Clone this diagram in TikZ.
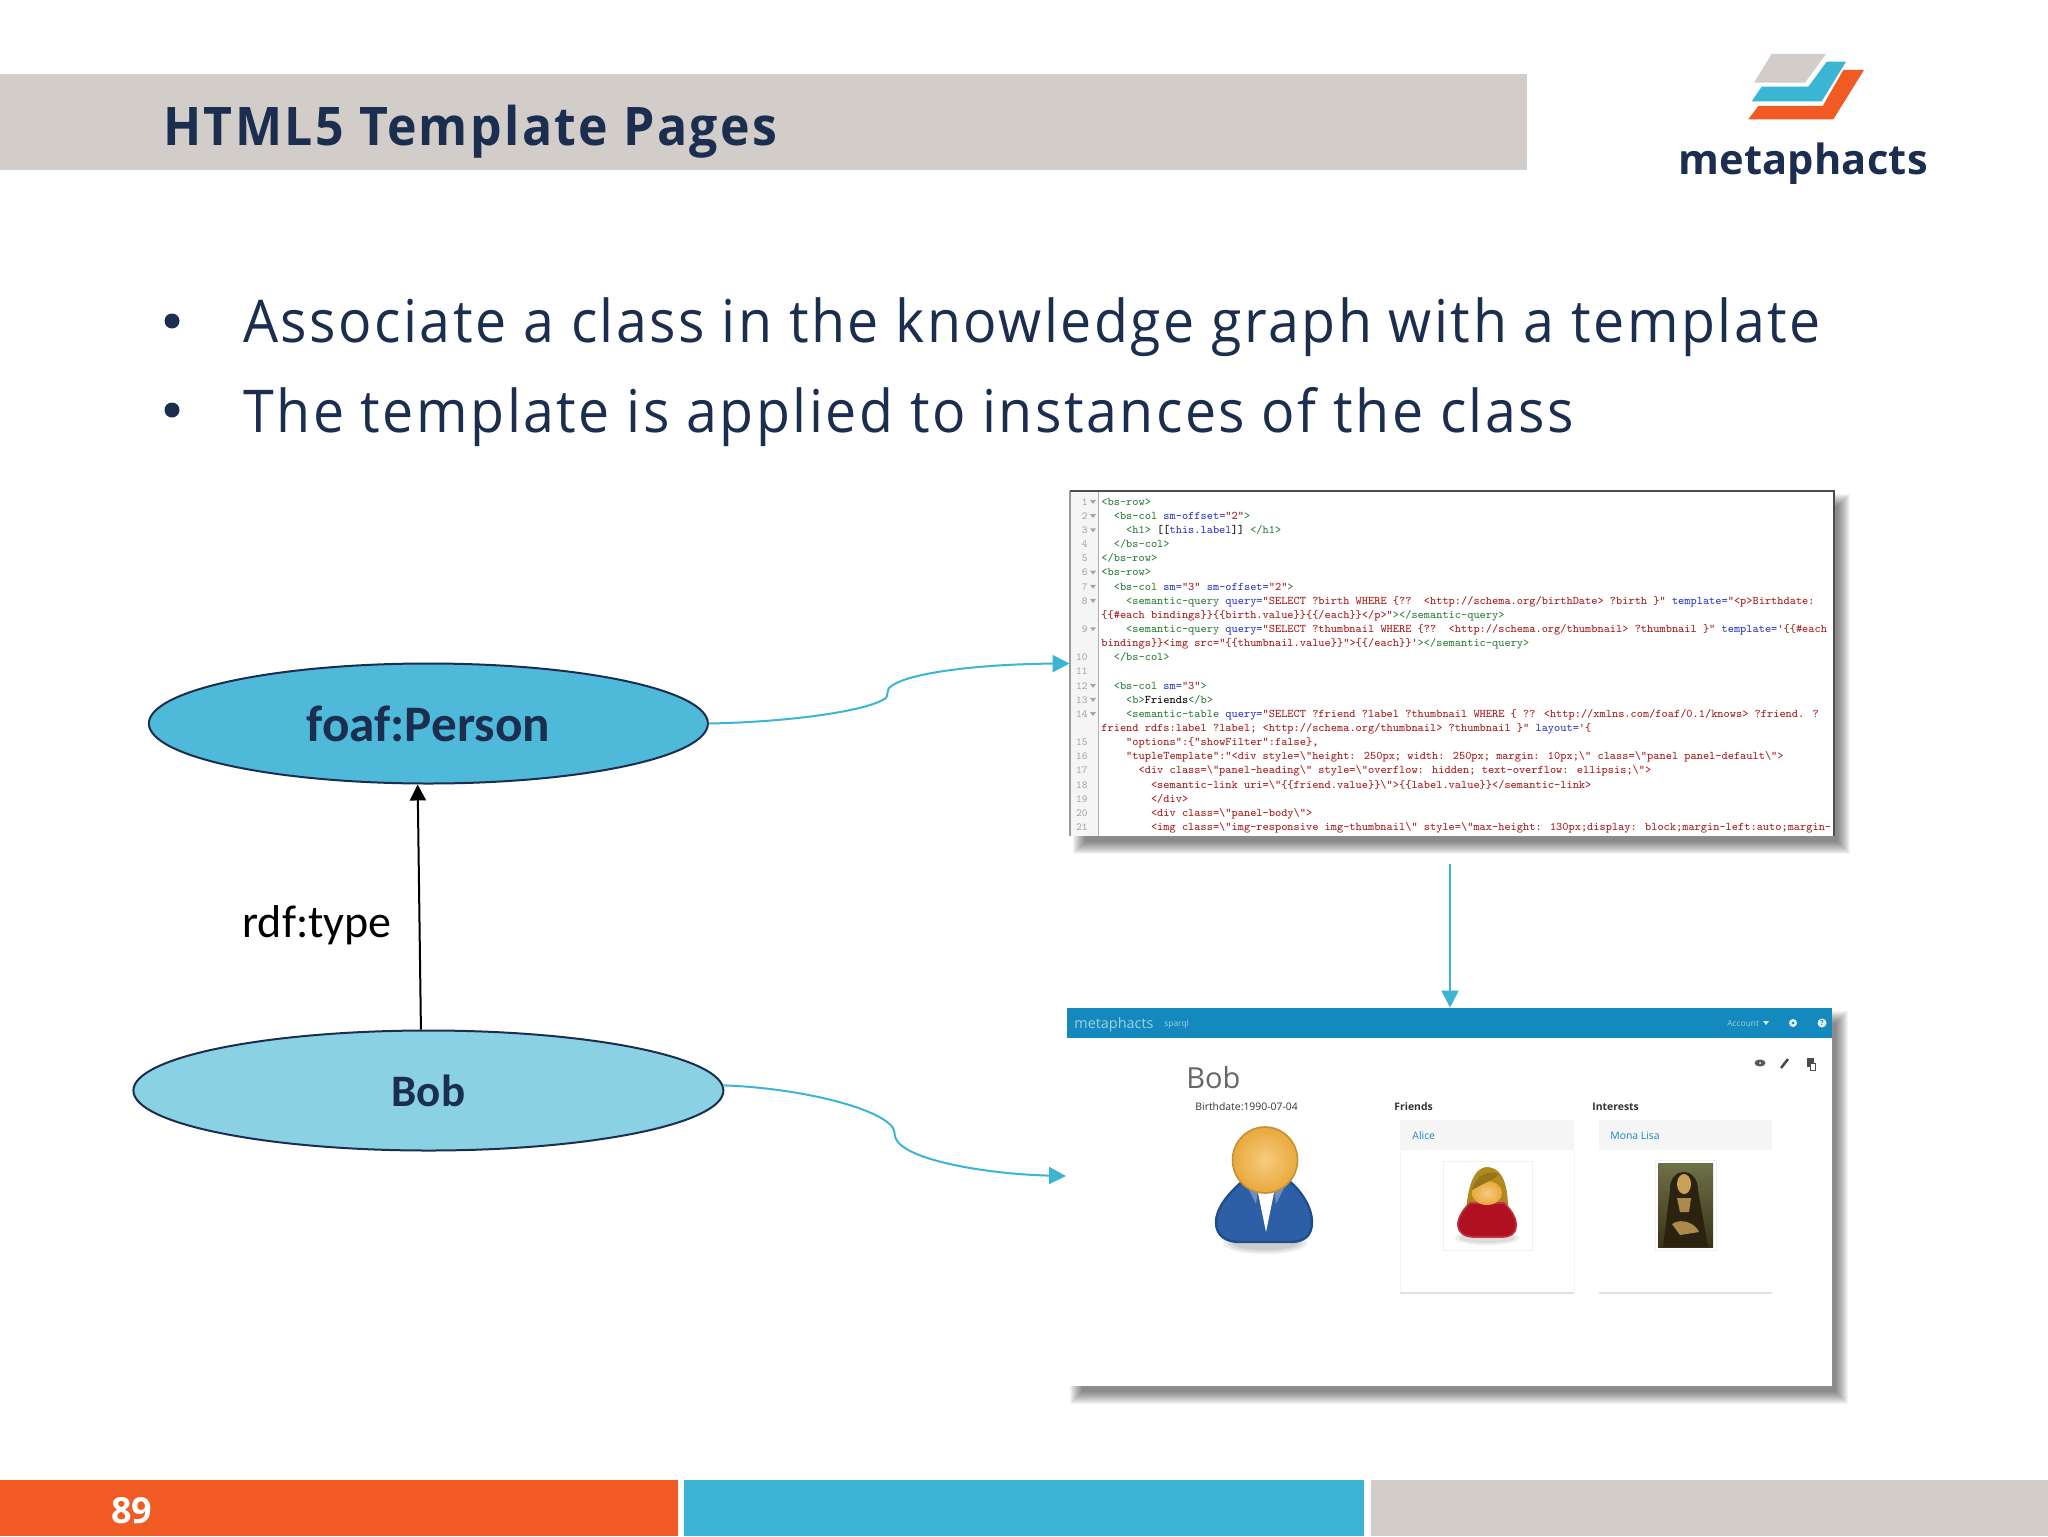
\documentclass[tikz,border=0pt]{standalone}
\usepackage{fontspec}
\usetikzlibrary{arrows.meta,shapes.geometric}
\setmainfont{Open Sans}
\newfontfamily\carl{Carlito}
\newfontfamily\titlef[LetterSpace=4.4,FakeStretch=0.94]{Open Sans}
\newfontfamily\logof[LetterSpace=0.5]{Open Sans}
\newfontfamily\bulletf[LetterSpace=4.15,FakeStretch=0.94]{Open Sans}
\definecolor{navy}{HTML}{1B2E4F}
\definecolor{band}{HTML}{D2CDC9}
\definecolor{orng}{HTML}{F15A22}
\definecolor{sky}{HTML}{3CB4D4}
\definecolor{foafc}{HTML}{4EB9D8}
\definecolor{bobc}{HTML}{8AD1E3}
\definecolor{appblue}{HTML}{1489BD}
\definecolor{cgreen}{HTML}{2E7D3A}
\definecolor{cblue}{HTML}{2A3AC8}
\definecolor{cred}{HTML}{A61C1C}
\definecolor{suit}{HTML}{2C5FA5}
\definecolor{suitd}{HTML}{1F4C8C}
\definecolor{skin}{HTML}{E9A93B}
\definecolor{skinl}{HTML}{F6CB80}
\definecolor{hair}{HTML}{B08A1E}
\definecolor{dress}{HTML}{B01020}
\definecolor{monatop}{HTML}{6E7148}
\definecolor{monabot}{HTML}{3A3318}
\definecolor{monadress}{HTML}{2B2210}
\definecolor{monaskin}{HTML}{C9A25A}
\newcommand\Tg[1]{\textcolor{cgreen}{#1}}
\newcommand\At[1]{\textcolor{cblue}{#1}}
\newcommand\Sr[1]{\textcolor{cred}{#1}}
\newcommand\codeline[3]{\node[codetxt] (cl#1) at ({1101+6.2*#2},{505.2+14.14*#1}) {#3};}
\newcommand\panelshadow[4]{\foreach \k in {-6,...,6}{\fill[black,opacity=.042] ({#1+9+\k},{#2+9+\k}) rectangle ({#3+10-\k},{#4+12-\k});}}
\tikzset{
  codetxt/.style={anchor=base west,inner sep=0pt,font=\ttfamily\fontsize{5.84}{7}\selectfont},
  gutnum/.style={anchor=base east,inner sep=0pt,text=gray!70,font=\ttfamily\fontsize{5.4}{6}\selectfont},
  classnode/.style={draw=navy,line width=1pt,shape=ellipse,inner sep=0pt,minimum height=60pt,text=navy},
  panel/.style={shape=rectangle,fill=white,inner sep=0pt},
  linkarrow/.style={draw=sky,line width=1pt,-{Triangle[length=8.5pt,width=8.5pt]}},
  bulletdot/.style={circle,fill=navy,inner sep=0pt,minimum size=7.5pt},
  bullettxt/.style={anchor=base west,inner sep=0pt,text=navy,font=\bulletf\fontsize{29.5}{34}\selectfont},
  apptxt/.style={anchor=base west,inner sep=0pt,font=\fontsize{5.2}{6}\selectfont,text=black!80},
  hdrtxt/.style={anchor=base west,inner sep=0pt,text=white,opacity=.6},
  linktxt/.style={anchor=base west,inner sep=0pt,text=appblue,font=\fontsize{5.2}{6}\selectfont},
}
\begin{document}
\begin{tikzpicture}[x=0.5pt,y=-0.5pt]
\useasboundingbox (0,0) rectangle (2048,1536);
\fill[white] (0,0) rectangle (2048,1536);
% header band
\fill[band] (0,74) rectangle (1527,170);
\node[anchor=base west,inner sep=0pt,text=navy,font=\titlef\bfseries\fontsize{26.6}{30}\selectfont] (title) at (163,145) {HTML5 Template Pages};
% logo
\fill[band] (1771.7,54) -- (1826,54) -- (1805,82.7) -- (1754,82.7) -- cycle;
\fill[sky] (1826.7,61.7) -- (1846,61.7) -- (1821.7,101.3) -- (1751.7,101.3) -- (1761.7,86.7) -- (1808.3,86.7) -- cycle;
\fill[orng] (1843.3,70) -- (1864,70) -- (1833.3,119.3) -- (1748.3,119.3) -- (1758.3,106) -- (1822.7,106) -- cycle;
\node[anchor=base west,inner sep=0pt,text=navy,font=\logof\bfseries\fontsize{20.8}{25}\selectfont] (logotxt) at (1678,174) {metaphacts};
% bullets
\node[bulletdot] (b1) at (172,321) {};
\node[bullettxt] (t1) at (243,342) {Associate a class in the knowledge graph with a template};
\node[bulletdot] (b2) at (172,410) {};
\node[bullettxt] (t2) at (243,432) {The template is applied to instances of the class};
% class ellipses
\node[classnode,fill=foafc,minimum width=279.5pt,font=\carl\bfseries\fontsize{25.6}{30}\selectfont] (foaf) at (428.4,723.5) {foaf:Person};
\node[classnode,fill=bobc,minimum width=295pt,font=\carl\bfseries\fontsize{22.5}{26}\selectfont] (bob) at (428.4,1090.5) {Bob};
\node[anchor=base west,inner sep=0pt,font=\carl\fontsize{23}{27}\selectfont] (rdf) at (242,937) {rdf:type};
% code panel
\panelshadow{1070}{491}{1834}{836}
\node[panel,minimum width=382pt,minimum height=172.5pt] (code) at (1452,663.5) {};
\fill[black!4] (1071,492) rectangle (1098,836);
\draw[black!30,line width=.5pt] (1098,492) -- (1098,836);
\draw[black!40,line width=.7pt] (1070,836) -- (1070,491);
\draw[black!70,line width=.7pt] (1070,491) -- (1834,491) -- (1834,836);
\foreach \r/\n in {0/1,1/2,2/3,3/4,4/5,5/6,6/7,7/8,9/9,11/10,12/11,13/12,14/13,15/14,17/15,18/16,19/17,20/18,21/19,22/20,23/21}{
  \node[gutnum] (g\r) at (1088,{505.2+14.14*\r}) {\n};
}
\foreach \r in {0,1,2,5,6,7,9,13,14,15}{
  \fill[gray!70] (1090,{500+14.14*\r}) -- (1096,{500+14.14*\r}) -- (1093,{504+14.14*\r}) -- cycle;
}
\codeline{0}{0}{\Tg{<bs-row>}}
\codeline{1}{2}{\Tg{<bs-col} \At{sm-offset=}\Sr{"2"}\Tg{>}}
\codeline{2}{4}{\Tg{<h1>} [[\At{this.label}]] \Tg{</h1>}}
\codeline{3}{2}{\Tg{</bs-col>}}
\codeline{4}{0}{\Tg{</bs-row>}}
\codeline{5}{0}{\Tg{<bs-row>}}
\codeline{6}{2}{\Tg{<bs-col} \At{sm=}\Sr{"3"} \At{sm-offset=}\Sr{"2"}\Tg{>}}
\codeline{7}{4}{\Tg{<semantic-query} \At{query=}\Sr{"SELECT ?birth WHERE \{??~~<http://schema.org/birthDate> ?birth \}"} \At{template=}\Sr{"<p>Birthdate:}}
\codeline{8}{0}{\Sr{\{\{\#each bindings\}\}\{\{birth.value\}\}\{\{/each\}\}</p>"}\Tg{></semantic-query>}}
\codeline{9}{4}{\Tg{<semantic-query} \At{query=}\Sr{"SELECT ?thumbnail WHERE \{??~~<http://schema.org/thumbnail> ?thumbnail \}"} \At{template=}\Sr{'\{\{\#each}}
\codeline{10}{0}{\Sr{bindings\}\}<img src="\{\{thumbnail.value\}\}">\{\{/each\}\}'}\Tg{></semantic-query>}}
\codeline{11}{2}{\Tg{</bs-col>}}
\codeline{13}{2}{\Tg{<bs-col} \At{sm=}\Sr{"3"}\Tg{>}}
\codeline{14}{4}{\Tg{<b>}Friends\Tg{</b>}}
\codeline{15}{4}{\Tg{<semantic-table} \At{query=}\Sr{"SELECT ?friend ?label ?thumbnail WHERE \{ ?? <http://xmlns.com/foaf/0.1/knows> ?friend. ?}}
\codeline{16}{0}{\Sr{friend rdfs:label ?label; <http://schema.org/thumbnail> ?thumbnail \}"} \At{layout=}\Sr{'\{}}
\codeline{17}{4}{\Sr{"options":\{"showFilter":false\},}}
\codeline{18}{4}{\Sr{"tupleTemplate":"<div style=\textbackslash"height: 250px; width: 250px; margin: 10px;\textbackslash" class=\textbackslash"panel panel-default\textbackslash">}}
\codeline{19}{6}{\Sr{<div class=\textbackslash"panel-heading\textbackslash" style=\textbackslash"overflow: hidden; text-overflow: ellipsis;\textbackslash">}}
\codeline{20}{8}{\Sr{<semantic-link uri=\textbackslash"\{\{friend.value\}\}\textbackslash">\{\{label.value\}\}</semantic-link>}}
\codeline{21}{8}{\Sr{</div>}}
\codeline{22}{8}{\Sr{<div class=\textbackslash"panel-body\textbackslash">}}
\codeline{23}{8}{\Sr{<img class=\textbackslash"img-responsive img-thumbnail\textbackslash" style=\textbackslash"max-height: 130px;display: block;margin-left:auto;margin-}}
% app panel
\panelshadow{1067}{1008}{1832}{1386}
\node[panel,minimum width=382.5pt,minimum height=189pt] (app) at (1449.5,1197) {};
\fill[appblue] (1067,1008) rectangle (1832,1038);
\node[hdrtxt,font=\fontsize{7.2}{9}\selectfont] (appname) at (1074,1028) {metaphacts};
\node[hdrtxt,font=\fontsize{4.2}{6}\selectfont] (appsparql) at (1164,1026) {sparql};
\node[hdrtxt,font=\fontsize{4.2}{6}\selectfont] (appacct) at (1727,1026) {Account};
\fill[white,opacity=.8] (1763,1021) -- (1769,1021) -- (1766,1025) -- cycle;
\fill[white,opacity=.9] (1793,1023) circle (4);
\fill[appblue] (1793,1023) circle (1.5);
\fill[white,opacity=.9] (1822,1023) circle (4.5);
\node[inner sep=0pt,text=appblue,font=\bfseries\fontsize{3.5}{4}\selectfont] (apphelp) at (1822,1023) {?};
% action icons
\fill[black!65] (1760,1063) ellipse (5.5 and 3.5);
\fill[white] (1760,1063) circle (1);
\draw[black!70,line width=1.3pt] (1781,1068) -- (1788,1059);
\draw[black!70,fill=black!70,line width=.4pt] (1807,1058) rectangle (1813,1066);
\draw[black!70,fill=white,line width=.4pt] (1810,1063) rectangle (1815,1070);
% page title and columns
\node[anchor=base west,inner sep=0pt,text=black!60,font=\fontsize{14.5}{16}\selectfont] (pgbob) at (1186,1088) {Bob};
\node[apptxt] (birth) at (1195,1110) {Birthdate:1990-07-04};
\node[apptxt,font=\bfseries\fontsize{5.2}{6}\selectfont] (friends) at (1394,1110) {Friends};
\node[apptxt,font=\bfseries\fontsize{5.2}{6}\selectfont] (interests) at (1592,1110) {Interests};
% cards
\fill[black!4] (1400,1120) rectangle (1574,1150);
\fill[black!4] (1599,1120) rectangle (1772,1150);
\draw[black!4,line width=.5pt] (1400,1150) -- (1400,1293);
\draw[black!4,line width=.5pt] (1574,1150) -- (1574,1293);
\draw[black!12,line width=.7pt] (1400,1293) -- (1574,1293);
\draw[black!12,line width=.7pt] (1599,1293) -- (1772,1293);
\node[linktxt] (alice) at (1412,1139) {Alice};
\node[linktxt] (mona) at (1610,1139) {Mona Lisa};
% Bob avatar
\foreach \ew/\eh in {42/11,38/9,34/7}{\fill[black,opacity=.07] (1265,1243) ellipse [x radius=\ew,y radius=\eh];}
\draw[fill=suit,draw=suitd,line width=1.2pt] (1244,1180) .. controls (1226,1195) and (1216,1210) .. (1216,1222) .. controls (1216,1236) and (1226,1242) .. (1240,1242) -- (1290,1242) .. controls (1304,1242) and (1312,1236) .. (1312,1222) .. controls (1312,1210) and (1304,1193) .. (1288,1180) -- cycle;
\fill[suit!70!white] (1246,1184) -- (1258,1190) -- (1256,1204) -- cycle;
\fill[suit!70!white] (1286,1184) -- (1274,1190) -- (1276,1204) -- cycle;
\fill[white] (1257,1188) -- (1275,1188) -- (1266,1232) -- cycle;
\shade[inner color=skinl,outer color=skin,draw=skin!85!black,line width=.8pt] (1265,1160) ellipse (32.5 and 33);
% Alice avatar
\draw[black!6,fill=white,line width=.5pt] (1443,1161) rectangle (1532,1250);
\fill[hair] (1487,1167) .. controls (1472,1168) and (1468,1190) .. (1466,1210) -- (1508,1210) .. controls (1508,1190) and (1505,1168) .. (1487,1167) -- cycle;
\foreach \ew/\eh in {32/7,28/5}{\fill[black,opacity=.07] (1487,1238) ellipse [x radius=\ew,y radius=\eh];}
\draw[fill=dress,draw=dress!85!white,line width=.8pt] (1470,1203) .. controls (1462,1210) and (1457,1220) .. (1458,1226) .. controls (1459,1234) and (1466,1237) .. (1474,1237) -- (1502,1237) .. controls (1510,1237) and (1516,1234) .. (1516,1226) .. controls (1517,1220) and (1512,1210) .. (1504,1203) -- cycle;
\shade[inner color=skinl,outer color=skin] (1487,1193) ellipse (15 and 12);
\fill[hair!85!black] (1472,1190) .. controls (1476,1174) and (1490,1170) .. (1499,1174) .. controls (1494,1180) and (1482,1184) .. (1472,1190) -- cycle;
% Mona Lisa thumbnail
\draw[black!6,fill=white,line width=.5pt] (1655,1160) rectangle (1716,1250);
\shade[top color=monatop,bottom color=monabot] (1658,1163) rectangle (1713,1247);
\fill[monadress] (1670,1190) .. controls (1669,1166) and (1698,1166) .. (1698,1190) -- (1708,1247) -- (1663,1247) -- cycle;
\fill[monaskin] (1684,1184) ellipse (7 and 10);
\fill[monaskin!85!black] (1677,1198) -- (1691,1198) -- (1689,1212) -- (1680,1212) -- cycle;
\fill[monaskin!85!black] (1672,1224) .. controls (1682,1217) and (1696,1224) .. (1699,1232) -- (1680,1235) -- cycle;
% connectors
\coordinate (codeout) at (1450,864);
\coordinate (appin) at (1066,1176);
\draw[linkarrow] (foaf.east) .. controls (790,722) and (868,711) .. (886,698) .. controls (888,695) and (887,691) .. (889,688) .. controls (905,672) and (985,664) .. (code.west);
\draw[linkarrow] (bob.1) .. controls (800,1088) and (880,1108) .. (893,1128) .. controls (895,1131) and (894,1135) .. (896,1139) .. controls (906,1160) and (985,1174) .. (appin);
\draw[linkarrow] (codeout) -- (codeout |- app.north);
\draw[black,line width=1pt,-{Triangle[length=8pt,width=8pt]}] (bob.97.6) -- (foaf.260.2);
% footer
\fill[orng] (0,1480) rectangle (678,1536);
\fill[sky] (684,1480) rectangle (1364,1536);
\fill[band] (1371,1480) rectangle (2048,1536);
\node[anchor=base west,inner sep=0pt,text=white,font=\bfseries\fontsize{18}{22}\selectfont] (pageno) at (111,1523) {89};
\end{tikzpicture}
\end{document}
